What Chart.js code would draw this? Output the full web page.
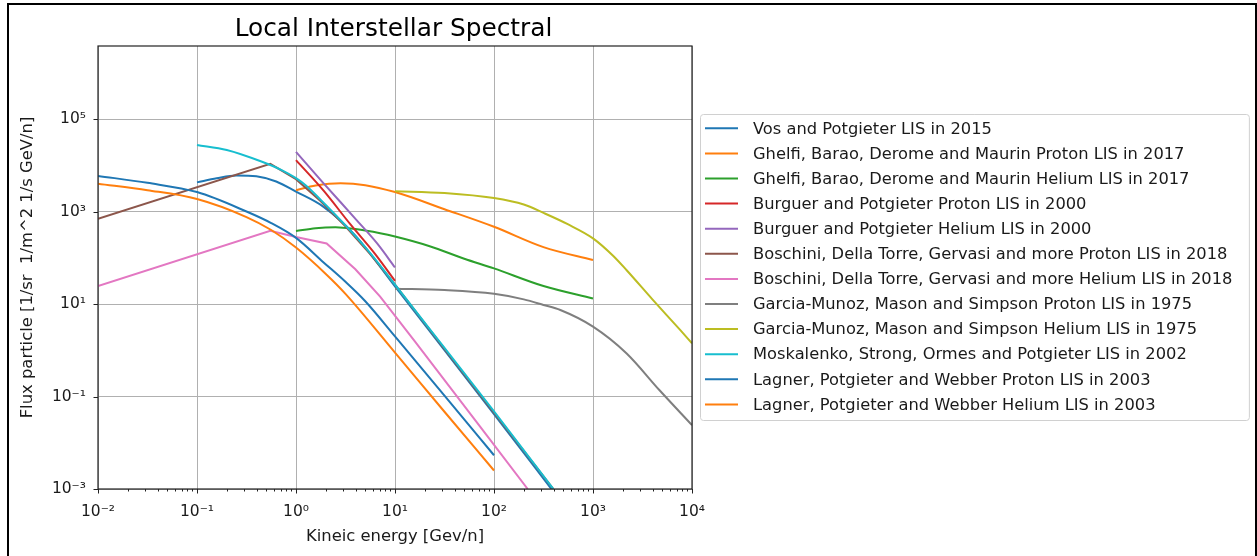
<!DOCTYPE html>
<html>
<head>
<meta charset="utf-8">
<title>Local Interstellar Spectral</title>
<script src="https://cdn.jsdelivr.net/npm/chart.js@4.4.0/dist/chart.umd.min.js"></script>
<style>
  html, body { margin: 0; padding: 0; background: #fff; }
  #wrap { position: relative; width: 1257px; height: 556px; overflow: hidden; }
  #frame { position: absolute; left: 7px; top: 3px; width: 1246px; height: 560px; border: 2px solid #000; pointer-events: none; }
  canvas { display: block; }
</style>
</head>
<body>
<div id="wrap">
  <canvas id="lis" width="1257" height="556"></canvas>
  <div id="frame"></div>
</div>
<script>
// kinetic energy [GeV/n] and flux
const vosE = [0.1, 0.158, 0.251, 0.398, 0.631, 1, 1.9, 3.98, 10, 31.6, 100, 380];
const vosFlux = [4266, 5248, 6026, 5754, 4467, 2692, 1259, 302, 24.0, 1.0, 0.0417, 0.001];

const ghelfiPE = [1, 1.58, 2.82, 5.01, 10, 31.6, 100, 316, 1000];
const ghelfiPFlux = [2884, 3631, 4074, 3715, 2630, 1122, 468, 170, 89.1];

const ghelfiHeE = [1, 1.58, 2.51, 3.98, 7.08, 10, 22.4, 50.1, 100, 316, 1000];
const ghelfiHeFlux = [380, 437, 457, 417, 339, 288, 178, 95.5, 58.9, 24.5, 13.2];

const burguerPE = [1, 1.9, 3.55, 6.31, 10];
const burguerPFlux = [12882, 2818, 525, 120, 31.6];

const burguerHeE = [1, 1.9, 4.07, 6.6, 10];
const burguerHeFlux = [19498, 4074, 661, 204, 61.7];

const boschiniPE = [0.01, 0.55, 1, 1.78, 3.16, 5.62, 10, 31.6, 100, 398];
const boschiniPFlux = [692, 10715, 5012, 1660, 479, 120, 26.3, 1.07, 0.0447, 0.001];

const boschiniHeE = [0.01, 0.55, 1, 2.04, 3.98, 7.08, 15.8, 72.4, 219];
const boschiniHeFlux = [24.5, 385, 282, 204, 56.2, 14.5, 1.58, 0.0224, 0.001];

const garciaPE = [10, 31.6, 100, 200, 316, 468, 1000, 2188, 4677, 10000];
const garciaPFlux = [21.4, 20.0, 16.6, 12.6, 9.55, 7.41, 3.24, 0.851, 0.138, 0.024];

const garciaHeE = [10, 31.6, 100, 200, 316, 562, 1000, 1585, 2188, 3981, 7586, 10000];
const garciaHeFlux = [2754, 2512, 1950, 1413, 933, 525, 263, 112, 53.7, 12.6, 2.75, 1.41];

const moskE = [0.1, 0.2, 0.447, 0.724, 1, 1.26, 1.78, 3.16, 5.62, 10, 31.6, 100, 398];
const moskFlux = [27542, 21380, 12023, 7762, 5248, 3631, 1778, 501, 126, 26.3, 1.12, 0.0479, 0.001];

const lagnerPE = [0.01, 0.0316, 0.1, 0.316, 0.562, 1, 1.9, 3.16, 5.01, 10, 31.6, 100];
const lagnerPFlux = [5888, 4169, 2630, 1000, 562, 269, 79.4, 30.2, 11.5, 2.0, 0.105, 0.00537];

const lagnerHeE = [0.01, 0.0316, 0.1, 0.316, 0.562, 1, 2, 3.16, 10, 31.6, 100];
const lagnerHeFlux = [3981, 2884, 1862, 759, 398, 166, 44.7, 16.6, 0.891, 0.0468, 0.00251];

const names = [
  "Vos and Potgieter LIS in 2015",
  "Ghelfi, Barao, Derome and Maurin Proton LIS in 2017",
  "Ghelfi, Barao, Derome and Maurin Helium LIS in 2017",
  "Burguer and Potgieter Proton LIS in 2000",
  "Burguer and Potgieter Helium LIS in 2000",
  "Boschini, Della Torre, Gervasi and more Proton LIS in 2018",
  "Boschini, Della Torre, Gervasi and more Helium LIS in 2018",
  "Garcia-Munoz, Mason and Simpson Proton LIS in 1975",
  "Garcia-Munoz, Mason and Simpson Helium LIS in 1975",
  "Moskalenko, Strong, Ormes and Potgieter LIS in 2002",
  "Lagner, Potgieter and Webber Proton LIS in 2003",
  "Lagner, Potgieter and Webber Helium LIS in 2003"
];

const xTicks = [1e-2, 1e-1, 1, 1e1, 1e2, 1e3, 1e4];
const yTicks = [1e-3, 1e-1, 1e1, 1e3, 1e5];

const energies = [vosE, ghelfiPE, ghelfiHeE, burguerPE, burguerHeE, boschiniPE, boschiniHeE,
  garciaPE, garciaHeE, moskE, lagnerPE, lagnerHeE];
const fluxes = [vosFlux, ghelfiPFlux, ghelfiHeFlux, burguerPFlux, burguerHeFlux, boschiniPFlux,
  boschiniHeFlux, garciaPFlux, garciaHeFlux, moskFlux, lagnerPFlux, lagnerHeFlux];

const colors = ["#1f77b4", "#ff7f0e", "#2ca02c", "#d62728", "#9467bd", "#8c564b",
  "#e377c2", "#7f7f7f", "#bcbd22", "#17becf", "#1f77b4", "#ff7f0e"];
const piecewise = [5, 6]; // the Boschini curves have sharp corners

const FONT = '"DejaVu Sans", sans-serif';
const sup = { "-": "\u207B", "0": "\u2070", "1": "\u00B9", "2": "\u00B2", "3": "\u00B3",
  "4": "\u2074", "5": "\u2075", "6": "\u2076", "7": "\u2077", "8": "\u2078", "9": "\u2079" };

function powLabel(v) {
  const e = Math.round(Math.log10(v));
  return "10" + String(e).split("").map(c => sup[c]).join("");
}

const datasets = names.map((name, i) => ({
  label: name,
  data: energies[i].map((e, j) => ({ x: e, y: fluxes[i][j] })),
  borderColor: colors[i],
  backgroundColor: colors[i],
  borderWidth: 2,
  pointRadius: 0,
  fill: false,
  order: names.length - i,
  cubicInterpolationMode: piecewise.includes(i) ? "default" : "monotone",
  tension: 0
}));

// matplotlib-like spines, tick marks, title and legend box
const mplFrame = {
  id: "mplFrame",
  afterDraw(chart) {
    const { ctx, chartArea: a } = chart;
    const xs = chart.scales.x, ys = chart.scales.y;
    ctx.save();

    ctx.strokeStyle = "#222";
    ctx.lineWidth = 1.2;
    ctx.strokeRect(a.left, a.top, a.right - a.left, a.bottom - a.top);

    ctx.beginPath();
    ctx.lineWidth = 1;
    for (let k = -2; k <= 4; k++) {
      for (let m = 1; m <= 9; m++) {
        const v = m * Math.pow(10, k);
        if (v > 1.0001e4) break;
        const px = Math.round(xs.getPixelForValue(v)) + 0.5;
        ctx.moveTo(px, a.bottom);
        ctx.lineTo(px, a.bottom + (m === 1 ? 4.5 : 2.5));
      }
    }
    yTicks.forEach(v => {
      const py = Math.round(ys.getPixelForValue(v)) + 0.5;
      ctx.moveTo(a.left - 4.5, py);
      ctx.lineTo(a.left, py);
    });
    ctx.stroke();

    ctx.fillStyle = "#000";
    ctx.font = "24.8px " + FONT;
    ctx.textAlign = "center";
    ctx.textBaseline = "alphabetic";
    ctx.fillText("Local Interstellar Spectral", (a.left + a.right) / 2 - 1.5, 36);

    // legend
    const fs = 16.3;
    ctx.font = fs + "px " + FONT;
    const items = chart.data.datasets;
    const textX = 753;
    let maxW = 0;
    items.forEach(d => { maxW = Math.max(maxW, ctx.measureText(d.label).width); });
    const bx = 700.5, by = 114.5;
    const bw = textX + maxW + 17 - bx, bh = 306;
    ctx.beginPath();
    ctx.roundRect(bx, by, bw, bh, 3);
    ctx.fillStyle = "rgba(255,255,255,0.8)";
    ctx.fill();
    ctx.strokeStyle = "#d0d0d0";
    ctx.lineWidth = 1;
    ctx.stroke();

    ctx.textAlign = "left";
    ctx.textBaseline = "middle";
    items.forEach((d, i) => {
      const cy = 128.3 + i * 25.1;
      ctx.beginPath();
      ctx.strokeStyle = d.borderColor;
      ctx.lineWidth = 2;
      ctx.moveTo(705, cy);
      ctx.lineTo(738, cy);
      ctx.stroke();
      ctx.fillStyle = "#1a1a1a";
      ctx.fillText(d.label, textX, cy + 1);
    });
    ctx.restore();
  }
};

new Chart(document.getElementById("lis"), {
  type: "line",
  data: { datasets: datasets },
  options: {
    responsive: false,
    animation: false,
    layout: { padding: { top: 46, right: 565, bottom: 0, left: 0 } },
    plugins: {
      legend: { display: false },
      title: { display: false },
      tooltip: { enabled: false }
    },
    scales: {
      x: {
        type: "logarithmic",
        min: 1e-2,
        max: 1e4,
        afterBuildTicks: s => { s.ticks = xTicks.map(v => ({ value: v, major: true })); },
        afterFit: s => { s.height = 67; },
        ticks: {
          callback: v => powLabel(v),
          font: { family: FONT, size: 15.5 },
          color: "#1a1a1a",
          padding: 14,
          maxRotation: 0,
          autoSkip: false
        },
        grid: { color: "#b0b0b0", lineWidth: 1, drawTicks: false },
        border: { display: false },
        title: {
          display: true,
          text: "Kineic energy [Gev/n]",
          font: { family: FONT, size: 16.4 },
          color: "#1a1a1a",
          padding: { top: 0, bottom: 9 }
        }
      },
      y: {
        type: "logarithmic",
        min: 1e-3,
        max: 3.79e6,
        afterBuildTicks: s => { s.ticks = yTicks.map(v => ({ value: v, major: true })); },
        afterFit: s => { s.width = 98; },
        ticks: {
          callback: v => powLabel(v),
          font: { family: FONT, size: 15.5 },
          color: "#1a1a1a",
          padding: 12,
          autoSkip: false
        },
        grid: { color: "#b0b0b0", lineWidth: 1, drawTicks: false },
        border: { display: false },
        title: {
          display: true,
          text: "Flux particle [1/sr  1/m^2 1/s GeV/n]",
          font: { family: FONT, size: 16.4 },
          color: "#1a1a1a",
          padding: { top: 18, bottom: 0 }
        }
      }
    }
  },
  plugins: [mplFrame]
});
</script>
</body>
</html>
